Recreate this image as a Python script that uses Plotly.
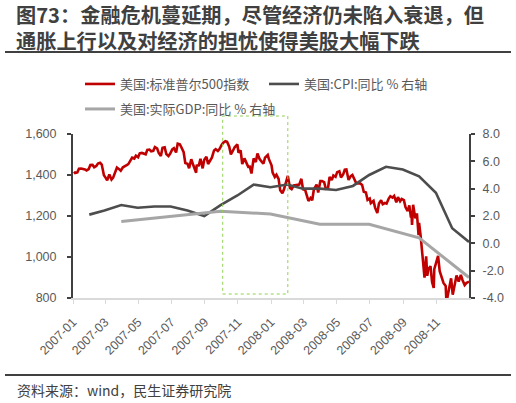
import plotly.graph_objects as go

# ---------------- data ----------------
sp_dates = [
 "2007-01-03","2007-01-05","2007-01-09","2007-01-12","2007-01-16","2007-01-19","2007-01-23","2007-01-26","2007-01-30",
 "2007-02-02","2007-02-06","2007-02-09","2007-02-13","2007-02-16","2007-02-20","2007-02-23","2007-02-27",
 "2007-03-02","2007-03-05","2007-03-09","2007-03-13","2007-03-16","2007-03-20","2007-03-23","2007-03-27","2007-03-30",
 "2007-04-03","2007-04-06","2007-04-10","2007-04-13","2007-04-17","2007-04-20","2007-04-24","2007-04-27",
 "2007-05-01","2007-05-04","2007-05-08","2007-05-11","2007-05-15","2007-05-18","2007-05-22","2007-05-25","2007-05-29",
 "2007-06-01","2007-06-05","2007-06-08","2007-06-12","2007-06-15","2007-06-19","2007-06-22","2007-06-26","2007-06-29",
 "2007-07-03","2007-07-06","2007-07-10","2007-07-13","2007-07-17","2007-07-20","2007-07-24","2007-07-27","2007-07-31",
 "2007-08-03","2007-08-07","2007-08-10","2007-08-14","2007-08-16","2007-08-17","2007-08-21","2007-08-24","2007-08-28","2007-08-31",
 "2007-09-04","2007-09-07","2007-09-11","2007-09-14","2007-09-18","2007-09-21","2007-09-25","2007-09-28",
 "2007-10-02","2007-10-05","2007-10-09","2007-10-12","2007-10-16","2007-10-19","2007-10-23","2007-10-26","2007-10-31",
 "2007-11-02","2007-11-06","2007-11-09","2007-11-13","2007-11-16","2007-11-20","2007-11-23","2007-11-26","2007-11-30",
 "2007-12-04","2007-12-07","2007-12-11","2007-12-14","2007-12-18","2007-12-21","2007-12-26","2007-12-28",
 "2008-01-02","2008-01-04","2008-01-08","2008-01-11","2008-01-15","2008-01-18","2008-01-22","2008-01-25","2008-01-29",
 "2008-02-01","2008-02-05","2008-02-08","2008-02-12","2008-02-15","2008-02-19","2008-02-22","2008-02-26","2008-02-29",
 "2008-03-04","2008-03-07","2008-03-10","2008-03-14","2008-03-17","2008-03-20","2008-03-25","2008-03-28",
 "2008-04-01","2008-04-04","2008-04-08","2008-04-11","2008-04-15","2008-04-18","2008-04-22","2008-04-25","2008-04-29",
 "2008-05-02","2008-05-06","2008-05-09","2008-05-13","2008-05-16","2008-05-19","2008-05-23","2008-05-27","2008-05-30",
 "2008-06-03","2008-06-06","2008-06-10","2008-06-13","2008-06-17","2008-06-20","2008-06-24","2008-06-27",
 "2008-07-01","2008-07-03","2008-07-08","2008-07-11","2008-07-15","2008-07-18","2008-07-22","2008-07-25","2008-07-29",
 "2008-08-01","2008-08-05","2008-08-08","2008-08-12","2008-08-15","2008-08-19","2008-08-22","2008-08-26","2008-08-29",
 "2008-09-02","2008-09-05","2008-09-09","2008-09-12","2008-09-15","2008-09-16","2008-09-17","2008-09-19","2008-09-23","2008-09-26","2008-09-29","2008-09-30",
 "2008-10-03","2008-10-07","2008-10-10","2008-10-13","2008-10-15","2008-10-17","2008-10-21","2008-10-24","2008-10-27","2008-10-28","2008-10-31",
 "2008-11-04","2008-11-07","2008-11-11","2008-11-14","2008-11-18","2008-11-20","2008-11-21","2008-11-25","2008-11-28",
 "2008-12-01","2008-12-05","2008-12-08","2008-12-12","2008-12-16","2008-12-19","2008-12-23","2008-12-26","2008-12-31",
]
sp_values = [
 1416.6,1409.7,1412.8,1430.7,1431.9,1430.5,1427.1,1422.2,1428.8,
 1448.4,1449.0,1438.1,1444.3,1455.5,1459.7,1451.2,1399.0,
 1387.2,1374.1,1402.8,1377.9,1386.9,1410.9,1436.1,1428.6,1420.9,
 1437.8,1443.8,1448.4,1452.9,1471.5,1484.4,1480.4,1494.1,
 1486.3,1505.6,1507.7,1505.9,1501.2,1522.8,1524.1,1515.7,1518.1,
 1536.3,1530.0,1507.7,1493.0,1532.9,1535.0,1502.6,1492.9,1503.4,
 1524.9,1530.4,1510.1,1552.5,1549.5,1534.1,1511.0,1458.9,1455.3,
 1433.1,1476.7,1453.6,1426.5,1411.3,1445.9,1447.1,1479.4,1432.4,1474.0,
 1489.4,1453.6,1471.5,1484.3,1519.8,1525.8,1517.2,1526.8,
 1546.6,1557.6,1565.2,1561.8,1538.5,1500.6,1519.6,1535.3,1549.4,
 1509.7,1520.3,1453.7,1481.1,1458.7,1439.7,1440.7,1407.2,1481.1,
 1462.8,1504.7,1477.7,1468.0,1455.0,1484.5,1497.7,1478.5,
 1447.2,1411.6,1390.2,1401.0,1381.0,1325.2,1310.5,1330.6,1362.3,
 1395.4,1336.6,1331.3,1348.9,1350.0,1348.8,1353.1,1381.3,1330.6,
 1326.8,1293.4,1273.4,1288.1,1276.6,1329.5,1353.0,1315.2,
 1370.2,1370.4,1365.5,1332.8,1334.4,1390.3,1375.9,1397.8,1390.9,
 1413.9,1418.3,1388.3,1403.0,1425.4,1426.6,1375.9,1395.0,1400.4,
 1377.7,1360.7,1358.4,1360.0,1350.9,1317.9,1314.3,1278.4,
 1284.9,1262.9,1273.7,1239.5,1214.9,1260.7,1277.0,1257.8,1263.2,
 1260.3,1284.9,1296.3,1289.6,1298.2,1266.7,1292.2,1271.5,1282.8,
 1277.6,1242.3,1224.5,1251.7,1192.7,1213.6,1156.4,1255.1,1188.2,1213.3,1106.4,1166.4,
 1099.2,996.2,899.2,1003.4,907.8,940.6,955.1,876.8,848.9,940.5,968.8,
 1005.8,931.0,899.0,873.3,859.1,752.4,800.0,857.4,896.2,
 816.2,876.1,909.7,879.7,913.2,887.9,863.2,872.8,880.0,
]

cpi_dates = [
 "2007-01-31","2007-02-28","2007-03-31","2007-04-30","2007-05-31","2007-06-30",
 "2007-07-31","2007-08-31","2007-09-30","2007-10-31","2007-11-30","2007-12-31",
 "2008-01-31","2008-02-29","2008-03-31","2008-04-30","2008-05-31","2008-06-30",
 "2008-07-31","2008-08-31","2008-09-30","2008-10-31","2008-11-30","2008-12-31",
]
cpi_values = [2.1,2.4,2.8,2.6,2.7,2.7,2.4,2.0,2.8,3.5,4.3,4.1,
              4.3,4.0,4.0,3.9,4.2,5.0,5.6,5.4,4.9,3.7,1.1,0.1]

gdp_dates = ["2007-03-31","2007-06-30","2007-09-30","2007-12-31",
             "2008-03-31","2008-06-30","2008-09-30","2008-12-31"]
gdp_values = [1.6,1.95,2.35,2.15,1.4,1.4,0.4,-2.5]

left_ticks = [800, 1000, 1200, 1400, 1600]
right_ticks = [-4, -2, 0, 2, 4, 6, 8]
right_ticktext = ["-4.0", "-2.0", "0.0", "2.0", "4.0", "6.0", "8.0"]

names = ["美国:标准普尔500指数", "美国:CPI:同比 % 右轴", "美国:实际GDP:同比 % 右轴"]
title_lines = ["图73：金融危机蔓延期，尽管经济仍未陷入衰退，但",
               "通胀上行以及对经济的担忧使得美股大幅下跌"]
source_text = "资料来源：wind，民生证券研究院"

# ---------------- layout helpers ----------------
W, H = 516, 403
L, R, T, B = 73, 469, 134, 298


def px(x):
    return (x - L) / (R - L)


def py(y):
    return (B - y) / (B - T)


FONT = "Liberation Sans, Noto Sans CJK SC, sans-serif"
CJK = "Noto Sans CJK SC, sans-serif"
GREY = "#595959"
DARK = "#404040"

fig = go.Figure()
fig.add_trace(go.Scatter(x=sp_dates, y=sp_values, name=names[0], mode="lines",
                         line=dict(color="#c00000", width=2.6), yaxis="y", legend="legend"))
fig.add_trace(go.Scatter(x=cpi_dates, y=cpi_values, name=names[1], mode="lines",
                         line=dict(color="#4d4d4d", width=2.6), yaxis="y2", legend="legend3"))
fig.add_trace(go.Scatter(x=gdp_dates, y=gdp_values, name=names[2], mode="lines",
                         line=dict(color="#a6a6a6", width=3), yaxis="y2", legend="legend2"))

legend_common = dict(orientation="h", xanchor="left", yanchor="middle",
                     bgcolor="rgba(0,0,0,0)", font=dict(family=CJK, size=13, color=GREY),
                     itemwidth=30)

fig.update_layout(
    width=W, height=H,
    margin=dict(l=L, r=W - R, t=T, b=H - B, pad=0),
    paper_bgcolor="white", plot_bgcolor="white",
    showlegend=True,
    legend=dict(x=px(80), y=py(84), **legend_common),
    legend3=dict(x=px(264), y=py(84), **legend_common),
    legend2=dict(x=px(80), y=py(109), **legend_common),
    xaxis=dict(type="date", range=["2007-01-01", "2008-12-31"],
               showline=True, linecolor="#d9d9d9", linewidth=2,
               ticks="outside", ticklen=4, tickcolor="#d9d9d9", tickwidth=1,
               dtick="M2", tick0="2007-01-01", tickformat="%Y-%m", tickangle=-45,
               ticklabelstandoff=6,
               tickfont=dict(family=FONT, size=12.5, color=GREY),
               showgrid=False, zeroline=False),
    yaxis=dict(range=[800, 1600], tickvals=left_ticks, tickformat=",",
               showline=True, linecolor=DARK, linewidth=2,
               ticks="outside", ticklen=4, tickcolor=DARK, tickwidth=2,
               ticklabelstandoff=8,
               tickfont=dict(family=FONT, size=12.5, color=GREY),
               showgrid=False, zeroline=False),
    yaxis2=dict(range=[-4, 8], tickvals=right_ticks, ticktext=right_ticktext,
                overlaying="y", side="right", anchor="x",
                showline=True, linecolor=DARK, linewidth=2,
                ticks="outside", ticklen=4, tickcolor=DARK, tickwidth=2,
                ticklabelstandoff=5,
                tickfont=dict(family=FONT, size=12.5, color=GREY),
                showgrid=False, zeroline=False),
    shapes=[
        dict(type="line", xref="paper", yref="paper", x0=px(5), x1=px(511), y0=py(52), y1=py(52),
             line=dict(color=DARK, width=2)),
        dict(type="line", xref="paper", yref="paper", x0=px(5), x1=px(511), y0=py(375), y1=py(375),
             line=dict(color=DARK, width=2)),
        dict(type="rect", xref="x", yref="paper", x0="2007-10-04", x1="2008-02-01",
             y0=py(294), y1=py(116), line=dict(color="#92d050", width=1, dash="dot"),
             fillcolor="rgba(0,0,0,0)"),
    ],
    annotations=[
        dict(text="<br>".join(title_lines), xref="paper", yref="paper", x=px(14), y=py(27),
             xanchor="left", yanchor="middle", align="left", showarrow=False,
             font=dict(family=CJK, size=20.2, color=DARK, weight="bold")),
        dict(text=source_text, xref="paper", yref="paper", x=px(15), y=py(390),
             xanchor="left", yanchor="middle", showarrow=False,
             font=dict(family=CJK, size=14, color=DARK)),
    ],
)

fig.write_html("out.html")
